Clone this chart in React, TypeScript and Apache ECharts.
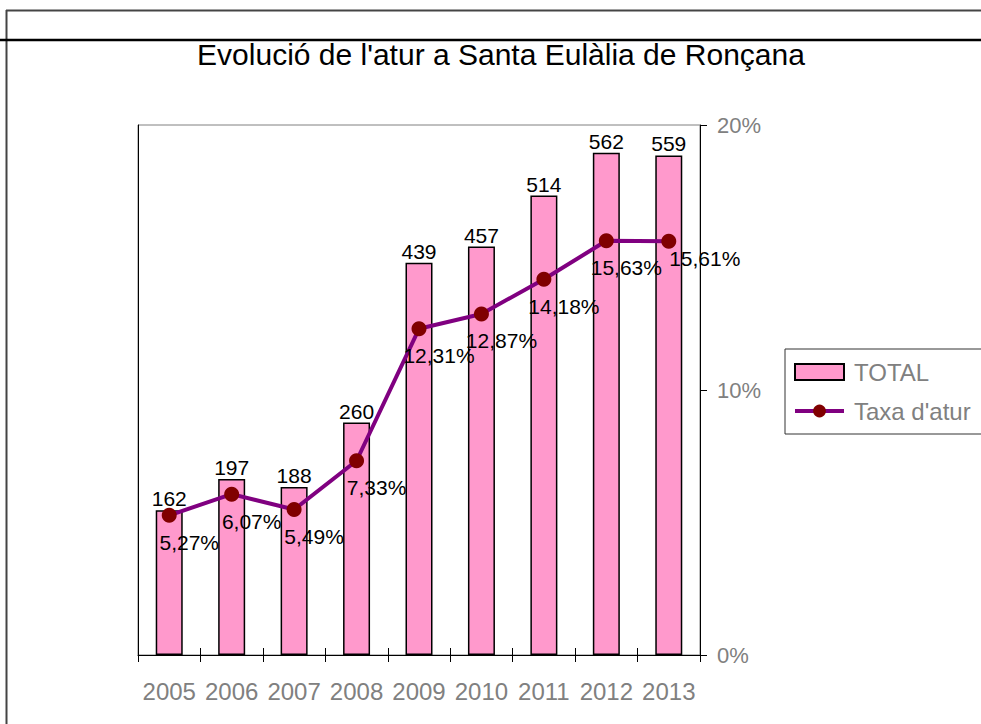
import React, { useEffect, useRef } from "react";
import * as echarts from "echarts";

const years = ["2005", "2006", "2007", "2008", "2009", "2010", "2011", "2012", "2013"];
const totals = [162, 197, 188, 260, 439, 457, 514, 562, 559];
const rates = [5.27, 6.07, 5.49, 7.33, 12.31, 12.87, 14.18, 15.63, 15.61];
const rateTicks = [0, 10, 20];
const titleText = "Evolució de l'atur a Santa Eulàlia de Ronçana";

const FONT = "'Liberation Sans', Arial, Helvetica, sans-serif";

export default function App() {
  const ref = useRef<HTMLDivElement>(null);
  useEffect(() => {
    if (!ref.current) return;
    const chart = echarts.init(ref.current, null, { renderer: "svg" });
    const lastIndex = rates.length - 1;
    chart.setOption({
      animation: false,
      backgroundColor: "#ffffff",
      textStyle: { fontFamily: FONT },
      graphic: [
        { type: "line", shape: { x1: 6, y1: 10.5, x2: 981, y2: 10.5 }, style: { stroke: "#444", lineWidth: 2 } },
        { type: "line", shape: { x1: 6.5, y1: 10, x2: 6.5, y2: 724 }, style: { stroke: "#444", lineWidth: 2 } },
        { type: "line", shape: { x1: 0, y1: 40, x2: 981, y2: 40 }, style: { stroke: "#000", lineWidth: 2.5 } },
        {
          type: "text",
          x: 501,
          y: 54,
          style: {
            text: titleText,
            textAlign: "center",
            textVerticalAlign: "middle",
            font: `30px ${FONT}`,
            fill: "#000",
          },
        },
      ],
      legend: {
        orient: "vertical",
        left: 785,
        top: 349,
        padding: [11, 20, 11, 8],
        itemWidth: 49,
        itemHeight: 16,
        itemGap: 15,
        borderColor: "#333",
        borderWidth: 1,
        backgroundColor: "#fff",
        lineStyle: { width: 4 },
        textStyle: { color: "#808080", fontSize: 24, fontFamily: FONT, padding: [0, 0, 0, 5] },
        data: [{ name: "TOTAL", icon: "rect" }, { name: "Taxa d'atur" }],
      },
      grid: {
        left: 138,
        top: 125,
        width: 562,
        height: 530,
        show: true,
        borderColor: "#808080",
        borderWidth: 1,
        containLabel: false,
      },
      xAxis: [
        {
          type: "category",
          position: "bottom",
          data: years,
          boundaryGap: true,
          axisLine: { show: true, lineStyle: { color: "#000", width: 1 } },
          axisTick: { show: true, length: 7, interval: 0, lineStyle: { color: "#000" } },
          axisLabel: { color: "#808080", fontSize: 24, fontFamily: FONT, margin: 24, interval: 0 },
          splitLine: { show: false },
        },
        {
          type: "category",
          position: "bottom",
          data: years,
          boundaryGap: true,
          axisLine: { show: false },
          axisTick: { show: true, inside: true, length: 7, interval: 0, lineStyle: { color: "#000" } },
          axisLabel: { show: false },
          splitLine: { show: false },
        },
      ],
      yAxis: [
        {
          type: "value",
          position: "left",
          min: 0,
          max: 593,
          axisLine: { show: true, lineStyle: { color: "#000", width: 1 } },
          axisTick: { show: false },
          axisLabel: { show: false },
          splitLine: { show: false },
        },
        {
          type: "value",
          position: "right",
          min: rateTicks[0],
          max: rateTicks[rateTicks.length - 1],
          interval: rateTicks[1] - rateTicks[0],
          axisLine: { show: true, lineStyle: { color: "#000", width: 1 } },
          axisTick: { show: true, length: 7, lineStyle: { color: "#000" } },
          axisLabel: {
            color: "#808080",
            fontSize: 22,
            fontFamily: FONT,
            margin: 17,
            formatter: "{value}%",
          },
          splitLine: { show: false },
        },
      ],
      series: [
        {
          name: "TOTAL",
          type: "bar",
          xAxisIndex: 0,
          yAxisIndex: 0,
          data: totals,
          barWidth: 27,
          itemStyle: { color: "#FF99CC", borderColor: "#000", borderWidth: 1.5 },
          label: {
            show: true,
            position: "top",
            distance: 1,
            color: "#000",
            fontSize: 21,
            fontFamily: FONT,
          },
        },
        {
          name: "Taxa d'atur",
          type: "line",
          xAxisIndex: 0,
          yAxisIndex: 1,
          data: rates,
          symbol: "circle",
          symbolSize: 15,
          lineStyle: { color: "#800080", width: 4 },
          itemStyle: { color: "#800000", borderWidth: 0 },
          label: {
            show: true,
            position: "inside",
            color: "#000",
            fontSize: 21,
            fontFamily: FONT,
            formatter: (p: any) => p.value.toFixed(2).replace(".", ",") + "%",
          },
          labelLayout: (params: any) =>
            params.dataIndex === lastIndex ? { dx: 36, dy: 17 } : { dx: 20, dy: 27 },
          z: 5,
        },
      ],
    });
    return () => chart.dispose();
  }, []);
  return (
    <div
      ref={ref}
      style={{ position: "absolute", left: 0, top: 0, width: 981, height: 724 }}
    />
  );
}
